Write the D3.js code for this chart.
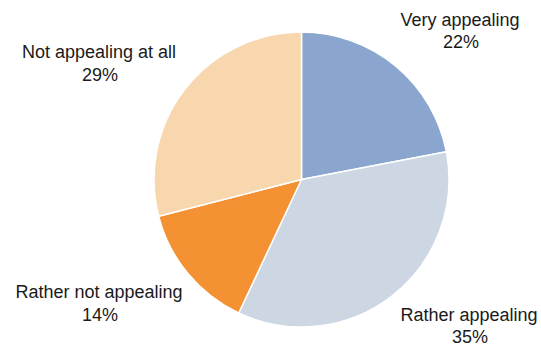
<!DOCTYPE html>
<html>
<head>
<meta charset="utf-8">
<script src="https://cdn.jsdelivr.net/npm/d3@7"></script>
<style>
  html, body { margin: 0; padding: 0; background: #fff; }
  svg { display: block; }
</style>
</head>
<body>
<svg id="chart" width="541" height="347"></svg>
<script>
// Data
const categories = ["Very appealing", "Rather appealing", "Rather not appealing", "Not appealing at all"];
const values = [22, 35, 14, 29];
const valueLabels = ["22%", "35%", "14%", "29%"];
const colors = ["#8AA6CE", "#CDD7E3", "#F39133", "#F8D7AF"];

// Layout
const W = 541, H = 347;
const cx = 301.5, cy = 179.5, R = 147.5;
// label anchors (center x, first baseline y) for each category
const labelLayout = [
  { x: 460, y: 25.7 },
  { x: 469, y: 320.7 },
  { x: 99, y: 298 },
  { x: 99, y: 58 }
];
const lineGap = 22.6;

const svg = d3.select("#chart");
const g = svg.append("g").attr("transform", `translate(${cx},${cy})`);

const pie = d3.pie().sort(null).value(d => d.value)
  .startAngle(0).endAngle(2 * Math.PI);
const arc = d3.arc().innerRadius(0).outerRadius(R);

const data = categories.map((c, i) => ({ cat: c, value: values[i], label: valueLabels[i], color: colors[i] }));

g.selectAll("path")
  .data(pie(data))
  .join("path")
  .attr("d", arc)
  .attr("fill", d => d.data.color)
  .attr("stroke", "#fff")
  .attr("stroke-width", 1.5)
  .attr("stroke-linejoin", "round");

const labels = svg.append("g")
  .attr("font-family", "'Liberation Sans', Arial, sans-serif")
  .attr("font-size", 18)
  .attr("fill", "#1a1a1a")
  .attr("text-anchor", "middle");

data.forEach((d, i) => {
  const p = labelLayout[i];
  const t = labels.append("text").attr("x", p.x).attr("y", p.y);
  t.append("tspan").attr("x", p.x).attr("y", p.y).text(d.cat);
  t.append("tspan").attr("x", p.x + 1).attr("y", p.y + lineGap).text(d.label);
});
</script>
</body>
</html>
